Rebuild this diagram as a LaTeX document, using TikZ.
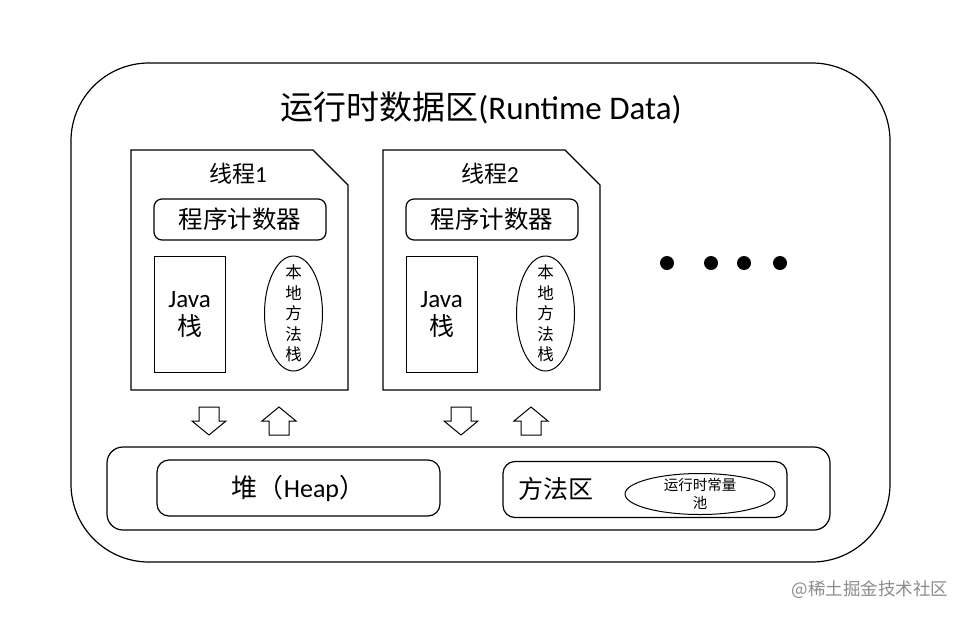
\documentclass[tikz,border=0pt]{standalone}
\usepackage{fontspec}
\setmainfont{Carlito}
\newfontfamily\cjk{Noto Sans CJK SC}
\usetikzlibrary{shapes.geometric}
\begin{document}
\begin{tikzpicture}[x=1pt,y=-1pt,line width=1.2pt,
  pcbox/.style={draw,rounded corners=8pt,minimum width=172pt,minimum height=41pt,inner sep=0pt,font=\fontsize{24.5}{26}\selectfont},
  jbox/.style={draw,line width=1pt,minimum width=71pt,minimum height=116pt,inner sep=0pt,align=center,font=\fontsize{25}{30}\selectfont},
  nat/.style={draw,line width=1pt,ellipse,minimum width=58pt,minimum height=115pt,inner sep=0pt},
  natt/.style={align=center,inner sep=0pt,font=\fontsize{16.5}{20.5}\selectfont\cjk},
  ttl/.style={font=\fontsize{23}{25}\selectfont},
  dot/.style={fill=black,circle,minimum size=14pt,inner sep=0pt},
  blk/.style={draw,line width=1pt,fill=white},
  area/.style={draw,rounded corners=12pt,minimum height=56pt,inner sep=0pt}
]
\useasboundingbox (0,0) rectangle (969,619);
% outer container
\draw[rounded corners=78pt] (71,63) rectangle (890,562);
\node[font=\fontsize{33}{35}\selectfont] (title) at (481,108) {{\cjk 运行时数据区}(Runtime Data)};
% threads
\foreach \i/\dx in {1/0,2/252}{
  \begin{scope}[xshift=\dx pt]
  \draw (131,150) -- (313,150) -- (348,185) -- (348,390) -- (131,390) -- cycle;
  \node[ttl] (th\i) at (238,174) {{\cjk 线程}\i};
  \node[pcbox] (pc\i) at (240,219.5) {\cjk 程序计数器};
  \node[jbox] (js\i) at (189.5,314) {Java\\[-2pt]{\cjk 栈}};
  \node[nat] (ns\i) at (293.5,313.5) {};
  \node[natt] (nst\i) at (ns\i.center) {本\\地\\方\\法\\栈};
  \end{scope}
}
% dots
\node[dot] (d1) at (667,263) {};
\node[dot] (d2) at (711,263) {};
\node[dot] (d3) at (744,263) {};
\node[dot] (d4) at (780,263) {};
% block arrows
\foreach \n/\cx in {a/209,c/461}{
  \draw[blk] (\cx-10,407) -- (\cx+10,407) -- (\cx+10,421) -- (\cx+17,421) -- (\cx,435) -- (\cx-17,421) -- (\cx-10,421) -- cycle;
}
\foreach \n/\cx in {b/279,d/531}{
  \draw[blk] (\cx-10,435) -- (\cx+10,435) -- (\cx+10,421) -- (\cx+17,421) -- (\cx,407) -- (\cx-17,421) -- (\cx-10,421) -- cycle;
}
% bottom container
\draw[rounded corners=16pt] (107,447) rectangle (830,530);
\node[area,minimum width=283pt,font=\fontsize{26}{28}\selectfont] (heap) at (298.5,488) {{\cjk 堆（}Heap{\cjk ）}};
\node[area,minimum width=284pt] (meth) at (645,489.5) {};
\node[font=\fontsize{25}{27}\selectfont\cjk] (methl) at (556,489) {方法区};
\node[draw,line width=1pt,ellipse,minimum width=150pt,minimum height=41pt,inner sep=0pt] (pool) at (700,494) {};
\node[align=center,inner sep=0pt,font=\fontsize{14.5}{18}\selectfont\cjk] (poolt) at (pool.center) {运行时常量\\池};
% watermark
\node[text=black!45,font=\fontsize{17.5}{19}\selectfont\cjk,anchor=east] (wm) at (952,590) {@稀土掘金技术社区};
\end{tikzpicture}
\end{document}
